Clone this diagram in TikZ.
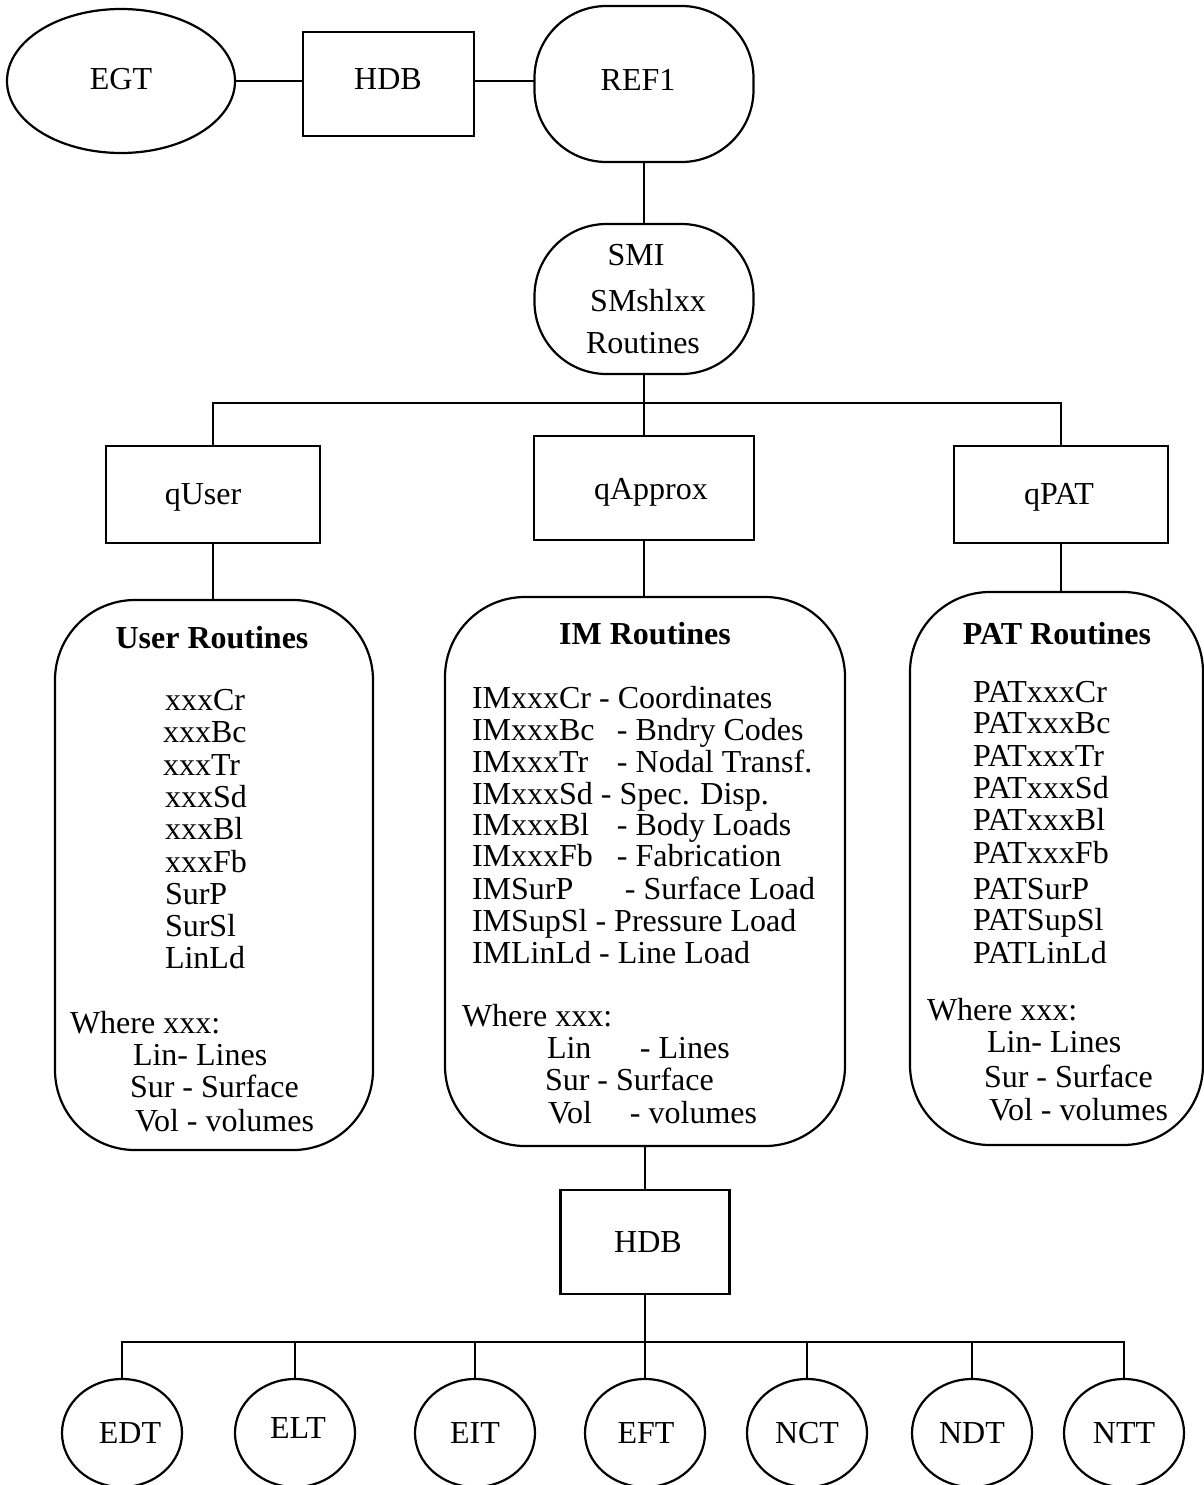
\documentclass[tikz,border=0pt]{standalone}
\usepackage{fontspec}
\setmainfont{Liberation Serif}
\usetikzlibrary{shapes.geometric}
\begin{document}
\begin{tikzpicture}[x=1pt,y=-1pt,
  every node/.style={inner sep=0pt, outer sep=0pt},
  conn/.style={line width=2.2pt},
  shp/.style={draw, line width=2.2pt},
  rbox/.style={shp, rectangle},
  ell/.style={shp, ellipse},
  rrect/.style={shp, rectangle, rounded corners=#1},
  lbl/.style={font=\fontsize{32}{32}\selectfont},
  txt/.style={font=\fontsize{32}{32}\selectfont, anchor=base west},
  ttl/.style={font=\fontsize{32}{32}\selectfont\bfseries, anchor=base},
]
\useasboundingbox (0,0) rectangle (1204,1485);

% top row
\node[ell, minimum width=228pt, minimum height=144pt] (egt) at (121,81) {};
\node[lbl] (egtt) at (121,79) {EGT};
\node[rbox, minimum width=171pt, minimum height=104pt] (hdba) at (388.5,84) {};
\node[lbl] (hdbat) at (388,79) {HDB};
\node[rrect=72pt, minimum width=219pt, minimum height=156pt] (ref) at (644,84) {};
\node[lbl] (reft) at (638,80) {REF1};

% SMI
\node[rrect=72pt, minimum width=219pt, minimum height=150pt] (smi) at (644,299) {};
\node[lbl] (smit1) at (636,255) {SMI};
\node[lbl] (smit2) at (648,301) {SMshlxx};
\node[lbl] (smit3) at (643,343) {Routines};

% q boxes
\node[rbox, minimum width=214pt, minimum height=97pt] (quser) at (213,494.5) {};
\node[lbl] (qusert) at (203,497) {qUser};
\node[rbox, minimum width=220pt, minimum height=104pt] (qapp) at (644,488) {};
\node[lbl] (qappt) at (651,492) {qApprox};
\node[rbox, minimum width=214pt, minimum height=97pt] (qpat) at (1061,494.5) {};
\node[lbl] (qpatt) at (1059,497) {qPAT};

% routine boxes
\node[rrect=80pt, minimum width=318pt, minimum height=550pt] (ubox) at (214,875) {};
\node[rrect=80pt, minimum width=400pt, minimum height=549pt] (imbox) at (645,871.5) {};
\node[rrect=80pt, minimum width=293pt, minimum height=553pt] (patbox) at (1056.5,868.5) {};

% User routines text
\node[ttl] (ut) at (212,648) {User Routines};
\foreach \t/\x/\y [count=\i] in {xxxCr/165/710, xxxBc/163/742, xxxTr/163/775, xxxSd/165/807, xxxBl/165/839, xxxFb/165/872, SurP/165/904, SurSl/165/936, LinLd/165/968}
  \node[txt] (u\i) at (\x,\y) {\t};
\node[txt] (uw) at (70,1033) {Where xxx:};
\node[txt] (uw1) at (133,1065) {Lin- Lines};
\node[txt] (uw2) at (130,1097) {Sur - Surface};
\node[txt] (uw3) at (135,1131) {Vol - volumes};

% IM routines text
\node[ttl] (it) at (645,644) {IM Routines};
\node[txt] (i1) at (472,708) {IMxxxCr - Coordinates};
\node[txt] (i2) at (472,740) {\makebox[145pt][l]{IMxxxBc}- Bndry Codes};
\node[txt] (i3) at (472,772) {\makebox[145pt][l]{IMxxxTr}- Nodal Transf.};
\node[txt] (i4) at (472,804) {IMxxxSd - Spec. Disp.};
\node[txt] (i5) at (472,835) {\makebox[145pt][l]{IMxxxBl}- Body Loads};
\node[txt] (i6) at (472,866) {\makebox[145pt][l]{IMxxxFb}- Fabrication};
\node[txt] (i7) at (472,899) {\makebox[153pt][l]{IMSurP}- Surface Load};
\node[txt] (i8) at (472,931) {IMSupSl - Pressure Load};
\node[txt] (i9) at (472,963) {IMLinLd - Line Load};
\node[txt] (iw) at (462,1026) {Where xxx:};
\node[txt] (iw1) at (547,1058) {\makebox[93pt][l]{Lin}- Lines};
\node[txt] (iw2) at (545,1090) {Sur - Surface};
\node[txt] (iw3) at (548,1123) {\makebox[82pt][l]{Vol}- volumes};

% PAT routines text
\node[ttl] (pt) at (1057,644) {PAT Routines};
\foreach \t/\y [count=\i] in {PATxxxCr/702, PATxxxBc/733, PATxxxTr/766, PATxxxSd/798, PATxxxBl/830, PATxxxFb/863, PATSurP/899, PATSupSl/930, PATLinLd/963}
  \node[txt] (p\i) at (973,\y) {\t};
\node[txt] (pw) at (927,1020) {Where xxx:};
\node[txt] (pw1) at (987,1052) {Lin- Lines};
\node[txt] (pw2) at (984,1087) {Sur - Surface};
\node[txt] (pw3) at (989,1120) {Vol - volumes};

% HDB lower
\node[rbox, minimum width=169pt, minimum height=104pt] (hdbb) at (645,1242) {};
\node[lbl] (hdbbt) at (648,1242) {HDB};

% bottom ellipses
\foreach \n/\x in {edt/122, elt/295, eit/475, eft/645, nct/807, ndt/972, ntt/1124}
  \node[ell, minimum width=120pt, minimum height=108pt] (\n) at (\x,1433) {};
\node[lbl] (edtt) at (130,1433) {EDT};
\node[lbl] (eltt) at (298,1428) {ELT};
\node[lbl] (eitt) at (475,1433) {EIT};
\node[lbl] (eftt) at (646,1433) {EFT};
\node[lbl] (nctt) at (807,1433) {NCT};
\node[lbl] (ndtt) at (972,1433) {NDT};
\node[lbl] (ntty) at (1124,1433) {NTT};

% connectors
\draw[conn] (egt.east) -- (egt.east -| hdba.west);
\draw[conn] (egt.east -| hdba.east) -- (egt.east -| ref.west);
\draw[conn] (ref.south) -- (smi.north);
\coordinate (bus1) at (644,403);
\draw[conn] (smi.south) -- (bus1);
\draw[conn] (quser.north) |- (bus1) -| (qpat.north);
\draw[conn] (bus1) -- (qapp.north);
\draw[conn] (quser.south) -- (quser.south |- ubox.north);
\draw[conn] (qapp.south) -- (qapp.south |- imbox.north);
\draw[conn] (qpat.south) -- (qpat.south |- patbox.north);
\draw[conn] (imbox.south) -- (hdbb.north);
\coordinate (bus2) at (645,1342);
\draw[conn] (hdbb.south) -- (bus2);
\draw[conn] (edt.north) |- (bus2) -| (ntt.north);
\foreach \n in {elt, eit, eft, nct, ndt}
  \draw[conn] (\n.north) -- (\n.north |- bus2);
\end{tikzpicture}
\end{document}
